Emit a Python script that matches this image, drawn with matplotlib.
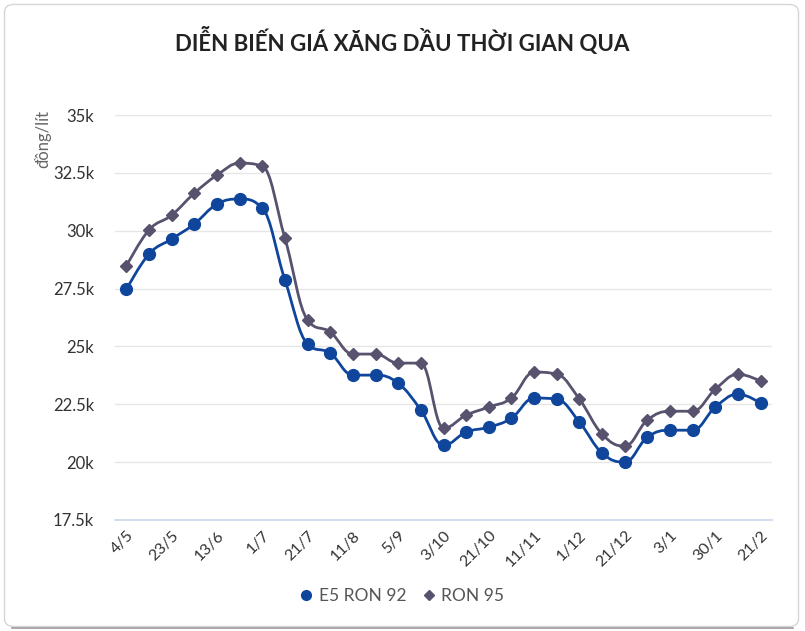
import matplotlib
matplotlib.use('Agg')
import matplotlib.pyplot as plt
from matplotlib.path import Path
from matplotlib.patches import PathPatch, FancyBboxPatch
from matplotlib.lines import Line2D
from matplotlib.ticker import FuncFormatter

# data (VND per litre)
dates = ['4/5', '', '23/5', '', '13/6', '', '1/7', '', '21/7', '', '11/8', '', '5/9', '',
         '3/10', '', '21/10', '', '11/11', '', '1/12', '', '21/12', '', '3/1', '', '30/1', '', '21/2']
e5_ron92 = [27460, 28990, 29640, 30290, 31150, 31370, 30980, 27870, 25100, 24710,
            23760, 23760, 23410, 22250, 20730, 21300, 21510, 21900, 22770, 22720,
            21730, 20390, 20000, 21080, 21380, 21380, 22380, 22940, 22550]
ron95 = [28470, 30030, 30670, 31620, 32400, 32920, 32790, 29680, 26140, 25620,
         24670, 24670, 24280, 24280, 21470, 22030, 22380, 22770, 23890, 23800,
         22720, 21210, 20690, 21820, 22200, 22200, 23150, 23800, 23500]
yticks = [17500, 20000, 22500, 25000, 27500, 30000, 32500, 35000]

c_e5 = '#0f469c'
c_r95 = '#58526f'
font = 'Lato'


def spline_path(xs, ys, smoothing=1.5):
    # highcharts-style spline
    n = len(xs)
    denom = smoothing + 1
    right = [None] * n
    left = [None] * n
    for i in range(1, n - 1):
        x, y = xs[i], ys[i]
        lx, ly = xs[i - 1], ys[i - 1]
        nx, ny = xs[i + 1], ys[i + 1]
        lcx = (smoothing * x + lx) / denom
        lcy = (smoothing * y + ly) / denom
        rcx = (smoothing * x + nx) / denom
        rcy = (smoothing * y + ny) / denom
        corr = (rcy - lcy) * (rcx - x) / (rcx - lcx) + y - rcy
        lcy += corr
        rcy += corr
        if lcy > ly and lcy > y:
            lcy = max(ly, y)
            rcy = 2 * y - lcy
        elif lcy < ly and lcy < y:
            lcy = min(ly, y)
            rcy = 2 * y - lcy
        if rcy > ny and rcy > y:
            rcy = max(ny, y)
            lcy = 2 * y - rcy
        elif rcy < ny and rcy < y:
            rcy = min(ny, y)
            lcy = 2 * y - rcy
        left[i] = (lcx, lcy)
        right[i] = (rcx, rcy)
    verts = [(xs[0], ys[0])]
    codes = [Path.MOVETO]
    for i in range(1, n):
        c1 = right[i - 1] if right[i - 1] else (xs[i - 1], ys[i - 1])
        c2 = left[i] if left[i] else (xs[i], ys[i])
        verts += [c1, c2, (xs[i], ys[i])]
        codes += [Path.CURVE4] * 3
    return Path(verts, codes)


fig = plt.figure(figsize=(8.05, 6.31), dpi=100)

# card frame
frame = FancyBboxPatch((4.5 / 805, 4.5 / 631), 794 / 805, 622 / 631,
                       boxstyle='round,pad=0,rounding_size=0.012',
                       transform=fig.transFigure, fill=False,
                       edgecolor='#d6d6d6', linewidth=1.0)
fig.patches.append(frame)
fig.add_artist(Line2D([12 / 805, 793 / 805], [1 - 627.5 / 631] * 2,
                      transform=fig.transFigure, color='#9a9a9a', lw=1.2))

ax = fig.add_axes([115 / 805, 1 - 520 / 631, 657 / 805, 405 / 631])
x = list(range(len(dates)))

for vals, col, mk, ms in [(ron95, c_r95, 'D', 6), (e5_ron92, c_e5, 'o', 8.5)]:
    ax.add_patch(PathPatch(spline_path(x, vals), fill=False, edgecolor=col, lw=2, zorder=3))
    ax.plot(x, vals, linestyle='none', marker=mk, color=col, markersize=ms, zorder=4)

ax.set_xlim(-0.5, len(dates) - 0.5)
ax.set_ylim(17500, 35000)
ax.set_yticks(yticks)
ax.yaxis.set_major_formatter(FuncFormatter(lambda v, p: ('%g' % (v / 1000)) + 'k'))
ax.grid(axis='y', color='#e6e6e6', lw=1)
ax.set_axisbelow(True)
for s in ['top', 'right', 'left']:
    ax.spines[s].set_visible(False)
ax.spines['bottom'].set_color('#ccd6eb')
ax.spines['bottom'].set_linewidth(1.2)
ax.tick_params(axis='y', length=0, pad=15, labelsize=12, labelcolor='#333333')
ax.tick_params(axis='x', length=0, pad=6, labelsize=11.5, labelcolor='#333333')
ax.set_xticks(x[::2])
ax.set_xticklabels(dates[::2], rotation=45, ha='right', rotation_mode='anchor')
for lab in ax.get_xticklabels() + ax.get_yticklabels():
    lab.set_fontfamily(font)

fig.text(0.5, 1 - 41 / 631, 'DIỄN BIẾN GIÁ XĂNG DẦU THỜI GIAN QUA', ha='center', va='center',
         fontsize=16, fontweight='bold', color='#222222', family=font)
fig.text(43 / 805, 1 - 139 / 631, 'đồng/lít', rotation=90, ha='center', va='center',
         fontsize=12, color='#666666', family=font)

handles = [Line2D([], [], color=c_e5, marker='o', lw=0, markersize=7),
           Line2D([], [], color=c_r95, marker='D', lw=0, markersize=5)]
leg = fig.legend(handles, ['E5 RON 92', 'RON 95'], loc='center', bbox_to_anchor=(0.5, 1 - 596 / 631),
                 ncol=2, frameon=False, handlelength=0.6, handletextpad=0.4, columnspacing=1.0,
                 prop={'family': font, 'size': 12.5})
for t in leg.get_texts():
    t.set_color('#555555')

fig.savefig('out.png', dpi=100)
